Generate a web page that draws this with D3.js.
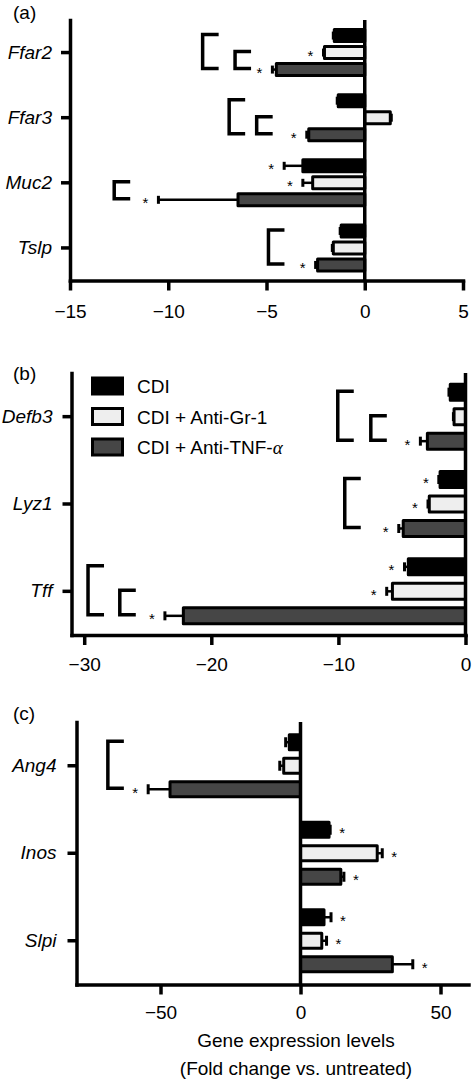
<!DOCTYPE html>
<html>
<head>
<meta charset="utf-8">
<script src="https://cdn.jsdelivr.net/npm/d3@7"></script>
<style>
  html, body { margin: 0; padding: 0; background: #fff; }
  svg { display: block; font-family: "Liberation Sans", Arial, Helvetica, sans-serif; }
</style>
</head>
<body>
<script>
// ---------------- DATA ----------------
const seriesNames = ["CDI", "CDI + Anti-Gr-1", "CDI + Anti-TNF-"];
const seriesColors = ["#000000", "#eeeeee", "#464646"];

// Panel (a)
const categoriesA = ["Ffar2", "Ffar3", "Muc2", "Tslp"];
const cdiA   = [-1.55, -1.35, -3.15, -1.2];
const gr1A   = [-2.05,  1.3,  -2.65, -1.6];
const tnfA   = [-4.5,  -2.85, -6.45, -2.4];
const cdiErrA = [0.05, 0.05, 0.95, 0.05];
const gr1ErrA = [0.05, 0.05, 0.5,  0.05];
const tnfErrA = [0.2,  0.1,  4.05, 0.1];
const cdiSigA = [0, 0, 1, 0];
const gr1SigA = [1, 0, 1, 0];
const tnfSigA = [1, 1, 1, 1];
const ticksA = [-15, -10, -5, 0, 5];
const domainA = [-15, 5];
// brackets: [category, from series, to series, x value]
const bracketsA = [["Ffar2", 0, 2, -8.25], ["Ffar2", 1, 2, -6.6], ["Ffar3", 0, 2, -6.9], ["Ffar3", 1, 2, -5.5], ["Muc2", 1, 2, -12.75], ["Tslp", 0, 2, -4.9]];

// Panel (b)
const categoriesB = ["Defb3", "Lyz1", "Tff"];
const cdiB   = [-1.2, -2.0, -4.5];
const gr1B   = [-0.9, -2.85, -5.75];
const tnfB   = [-3.0, -4.9, -22.2];
const cdiErrB = [0.1, 0.1, 0.3];
const gr1ErrB = [0.05, 0.1, 0.45];
const tnfErrB = [0.55, 0.35, 1.45];
const cdiSigB = [0, 1, 1];
const gr1SigB = [0, 1, 1];
const tnfSigB = [1, 1, 1];
const ticksB = [-30, -20, -10, 0];
const domainB = [-31, 0];
const bracketsB = [["Defb3", 0, 2, -10.05], ["Defb3", 1, 2, -7.45], ["Lyz1", 0, 2, -9.5], ["Tff", 0, 2, -29.7], ["Tff", 1, 2, -27.2]];

// Panel (c)
const categoriesC = ["Ang4", "Inos", "Slpi"];
const cdiC   = [-4.0, 10.2, 8.4];
const gr1C   = [-6.0, 27.4, 7.6];
const tnfC   = [-46.6, 14.4, 32.8];
const cdiErrC = [1.3, 0.4, 2.5];
const gr1ErrC = [1.4, 1.8, 1.7];
const tnfErrC = [7.8, 1.1, 7.3];
const cdiSigC = [0, 1, 1];
const gr1SigC = [0, 1, 1];
const tnfSigC = [1, 1, 1];
const ticksC = [-50, 0, 50];
const domainC = [-80, 60];
const bracketsC = [["Ang4", 0, 2, -68.8]];

const xTitle1 = "Gene expression levels";
const xTitle2 = "(Fold change vs. untreated)";

// ---------------- DRAWING ----------------
const W = 472, H = 1081;
const FS = 19;
const svg = d3.select("body").append("svg").attr("width", W).attr("height", H);

function drawPanel(p) {
  const g = svg.append("g");
  const x = d3.scaleLinear().domain(p.domain).range([p.left, p.right]);
  const y = d3.scaleBand().domain(p.categories).range([p.top, p.bottom]);
  const sub = d3.scaleBand().domain([0, 1, 2]).range([0, 3 * p.step])
      .paddingInner(1 - p.barH / p.step).paddingOuter((1 - p.barH / p.step) / 2);
  const center = (cat, s) => y(cat) + y.bandwidth() / 2 - 1.5 * p.step + sub(s) + sub.bandwidth() / 2;

  // panel label
  g.append("text").attr("x", 13).attr("y", p.labelY).attr("font-size", FS).text(p.label);

  // bars
  const rows = [];
  p.categories.forEach((c, i) => {
    p.values.forEach((arr, s) => {
      rows.push({cat: c, s: s, v: arr[i], e: p.errs[s][i], sig: p.sigs[s][i]});
    });
  });

  // error bars (drawn first so the bar stroke sits on top)
  rows.forEach(d => {
    const cy = center(d.cat, d.s);
    const xe = x(d.v + (d.v < 0 ? -d.e : d.e));
    g.append("line").attr("x1", x(d.v)).attr("x2", xe).attr("y1", cy).attr("y2", cy)
      .attr("stroke", "#000").attr("stroke-width", 2.5);
    g.append("line").attr("x1", xe).attr("x2", xe).attr("y1", cy - p.capH / 2).attr("y2", cy + p.capH / 2)
      .attr("stroke", "#000").attr("stroke-width", 3);
  });

  g.selectAll("rect.bar").data(rows).join("rect").attr("class", "bar")
    .attr("x", d => Math.min(x(0), x(d.v)))
    .attr("width", d => Math.abs(x(d.v) - x(0)))
    .attr("y", d => center(d.cat, d.s) - sub.bandwidth() / 2)
    .attr("height", sub.bandwidth())
    .attr("fill", d => seriesColors[d.s])
    .attr("stroke", "#000").attr("stroke-width", 3).attr("stroke-linejoin", "round");

  // significance stars
  rows.filter(d => d.sig).forEach(d => {
    const xe = x(d.v + (d.v < 0 ? -d.e : d.e));
    const sx = d.v < 0 ? xe - 13 : xe + 12;
    g.append("text").attr("x", sx).attr("y", center(d.cat, d.s) + 8.5)
      .attr("text-anchor", "middle").attr("font-size", 15).text("*");
  });

  // brackets
  p.brackets.forEach(b => {
    const y1 = center(b[0], b[1]) - 1, y2 = center(b[0], b[2]) - 1;
    const bx = x(b[3]);
    g.append("path").attr("d", `M${bx + 16},${y1}H${bx}V${y2}H${bx + 16}`)
      .attr("fill", "none").attr("stroke", "#000").attr("stroke-width", 3.5)
      .attr("stroke-linejoin", "miter");
  });

  // zero line
  g.append("line").attr("x1", x(0)).attr("x2", x(0)).attr("y1", p.top).attr("y2", p.bottom)
    .attr("stroke", "#000").attr("stroke-width", 3.5);

  // x axis
  const gx = g.append("g").attr("transform", `translate(0,${p.bottom})`)
    .call(d3.axisBottom(x).tickValues(p.ticks).tickSize(10).tickSizeOuter(0).tickPadding(p.xPad));
  gx.select(".domain").attr("stroke-width", 3.5).attr("stroke-linecap", "square");
  gx.selectAll(".tick line").attr("stroke-width", 3.5);
  gx.selectAll(".tick text").attr("font-size", FS).attr("font-family", "Liberation Sans, Arial, sans-serif");

  // y axis
  const gy = g.append("g").attr("transform", `translate(${p.left},0)`)
    .call(d3.axisLeft(y).tickSize(9).tickSizeOuter(0).tickPadding(p.yPad));
  gy.select(".domain").attr("stroke-width", 3.5).attr("stroke-linecap", "square");
  gy.selectAll(".tick line").attr("stroke-width", 3.5);
  gy.selectAll(".tick text").attr("font-size", FS).attr("font-style", "italic")
    .attr("font-family", "Liberation Sans, Arial, sans-serif");
  return g;
}

drawPanel({
  label: "(a)", labelY: 19, categories: categoriesA, domain: domainA, ticks: ticksA,
  values: [cdiA, gr1A, tnfA], errs: [cdiErrA, gr1ErrA, tnfErrA], sigs: [cdiSigA, gr1SigA, tnfSigA],
  brackets: bracketsA, left: 70, right: 463, top: 20, bottom: 280.5, step: 17, barH: 12, capH: 8,
  xPad: 14, yPad: 9
});

const gB = drawPanel({
  label: "(b)", labelY: 380, categories: categoriesB, domain: domainB, ticks: ticksB,
  values: [cdiB, gr1B, tnfB], errs: [cdiErrB, gr1ErrB, tnfErrB], sigs: [cdiSigB, gr1SigB, tnfSigB],
  brackets: bracketsB, left: 71.5, right: 465.5, top: 373, bottom: 635, step: 24.5, barH: 16, capH: 9,
  xPad: 13, yPad: 10
});

drawPanel({
  label: "(c)", labelY: 720, categories: categoriesC, domain: domainC, ticks: ticksC,
  values: [cdiC, gr1C, tnfC], errs: [cdiErrC, gr1ErrC, tnfErrC], sigs: [cdiSigC, gr1SigC, tnfSigC],
  brackets: bracketsC, left: 76.5, right: 468.5, top: 722, bottom: 984.5, step: 23.5, barH: 15, capH: 10,
  xPad: 11, yPad: 11
});

// legend (panel b)
const lg = gB.append("g").attr("transform", "translate(92.5,386)");
seriesNames.forEach((n, i) => {
  const row = lg.append("g").attr("transform", `translate(0,${i * 30.5})`);
  row.append("rect").attr("x", 0).attr("y", -8).attr("width", 30).attr("height", 16)
    .attr("fill", seriesColors[i]).attr("stroke", "#000").attr("stroke-width", 3);
  const t = row.append("text").attr("x", 44.5).attr("y", 7).attr("font-size", FS).text(n);
  if (i === 2) t.append("tspan").attr("font-family", "Liberation Serif, serif").attr("font-style", "italic").text("α");
});

// x title
svg.append("text").attr("x", 296).attr("y", 1047).attr("text-anchor", "middle").attr("font-size", FS).text(xTitle1);
svg.append("text").attr("x", 296).attr("y", 1075).attr("text-anchor", "middle").attr("font-size", FS).text(xTitle2);
</script>
</body>
</html>
